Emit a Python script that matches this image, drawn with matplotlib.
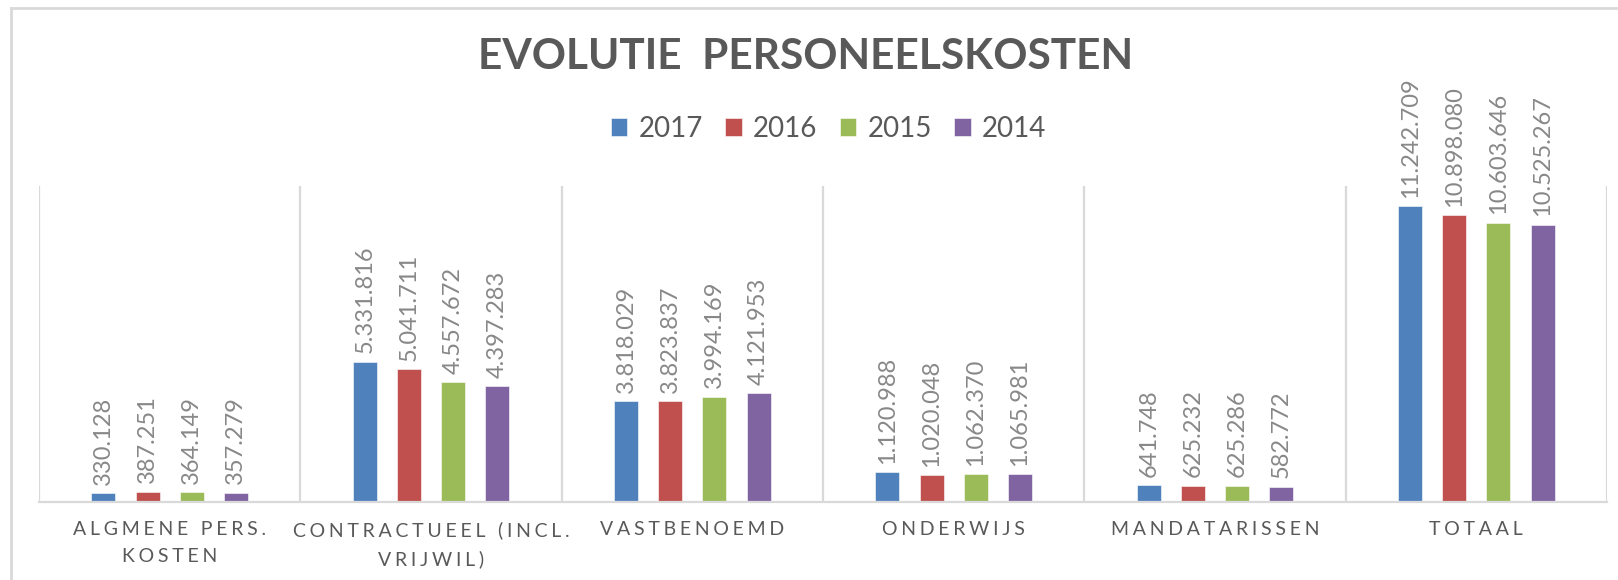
import matplotlib.pyplot as plt
import numpy as np
from matplotlib.lines import Line2D

plt.rcParams['font.family'] = ['Lato', 'DejaVu Sans']

categories = ['ALGMENE PERS.\nKOSTEN', 'CONTRACTUEEL (INCL.\nVRIJWIL)', 'VASTBENOEMD',
              'ONDERWIJS', 'MANDATARISSEN', 'TOTAAL']
years = ['2017', '2016', '2015', '2014']
v2017 = [330128, 5331816, 3818029, 1120988, 641748, 11242709]
v2016 = [387251, 5041711, 3823837, 1020048, 625232, 10898080]
v2015 = [364149, 4557672, 3994169, 1062370, 625286, 10603646]
v2014 = [357279, 4397283, 4121953, 1065981, 582772, 10525267]
series = [v2017, v2016, v2015, v2014]
colors = ['#4F81BD', '#C0504D', '#9BBB59', '#8064A2']


def spaced(s, sep='\u2009\u200a'):
    # Excel letter spacing, faked with thin + hair spaces
    return '\n'.join(sep.join(line) for line in s.split('\n'))


def fmt(v):
    return f'{v:,}'.replace(',', '.')


fig = plt.figure(figsize=(16.18, 5.8), dpi=100)
ax = fig.add_axes([39 / 1618, 78 / 580, 1568 / 1618, 316 / 580])

x = np.arange(len(categories))
pitch = 0.169
width = 0.092
for i, (vals, c, yr) in enumerate(zip(series, colors, years)):
    pos = x + (i - 1.5) * pitch
    ax.bar(pos, vals, width, color=c, label=yr, edgecolor='white', linewidth=0.4)
    for p, v in zip(pos, vals):
        ax.text(p, v + 320000, fmt(v), rotation=90, ha='center', va='bottom',
                fontsize=17, color='#888888')

ax.set_xlim(-0.5, len(categories) - 0.5)
ax.set_ylim(0, 12000000)
ax.set_yticks([])
ax.set_xticks(x)
ax.set_xticklabels([spaced(c) for c in categories], fontsize=14, color='#595959',
                   linespacing=1.7)
ax.tick_params(axis='x', length=0, pad=14)
for b in np.arange(-0.5, len(categories), 1):
    ax.axvline(b, color='#d9d9d9', lw=1.6, zorder=0)
for s in ['top', 'left', 'right']:
    ax.spines[s].set_visible(False)
ax.spines['bottom'].set_color('#d9d9d9')
ax.spines['bottom'].set_linewidth(1.6)

fig.text(0.498, 1 - 57 / 580, 'EVOLUTIE  PERSONEELSKOSTEN',
         ha='center', va='center', fontsize=30.5, fontweight='bold', color='#595959')
fig.legend(loc='center', bbox_to_anchor=(0.512, 1 - 129 / 580), ncol=4, frameon=False,
           fontsize=20, labelcolor='#595959', handlelength=0.6, handleheight=0.6,
           handletextpad=0.4, columnspacing=0.8)

# chart border
fig.add_artist(Line2D([11 / 1618, 1], [1 - 8 / 580, 1 - 8 / 580], color='#d9d9d9', lw=2,
                      transform=fig.transFigure))
fig.add_artist(Line2D([11 / 1618, 11 / 1618], [0, 1 - 8 / 580], color='#d9d9d9', lw=2,
                      transform=fig.transFigure))

fig.savefig('out.png', dpi=100)
